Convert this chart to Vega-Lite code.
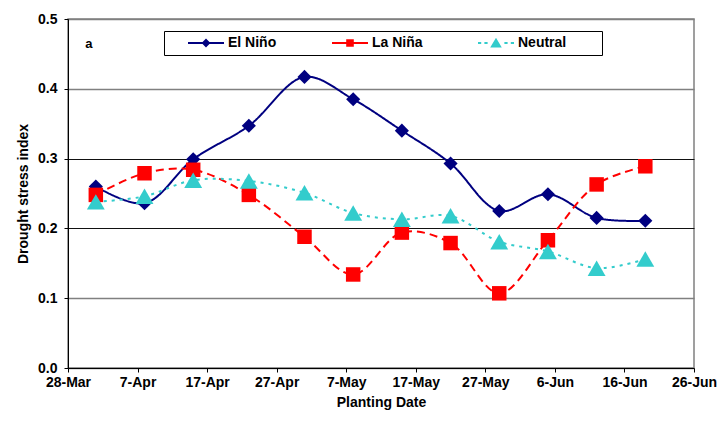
{
  "$schema": "https://vega.github.io/schema/vega-lite/v6.json",
  "width": 626,
  "height": 349,
  "autosize": {"type": "none"},
  "padding": {"left": 68, "top": 19, "right": 31, "bottom": 53},
  "background": "white",
  "data": {
    "values": [
      {"date": "2001/04/01", "series": "El Niño", "value": 0.260},
      {"date": "2001/04/08", "series": "El Niño", "value": 0.236},
      {"date": "2001/04/15", "series": "El Niño", "value": 0.299},
      {"date": "2001/04/23", "series": "El Niño", "value": 0.347},
      {"date": "2001/05/01", "series": "El Niño", "value": 0.417},
      {"date": "2001/05/08", "series": "El Niño", "value": 0.385},
      {"date": "2001/05/15", "series": "El Niño", "value": 0.340},
      {"date": "2001/05/22", "series": "El Niño", "value": 0.293},
      {"date": "2001/05/29", "series": "El Niño", "value": 0.225},
      {"date": "2001/06/05", "series": "El Niño", "value": 0.249},
      {"date": "2001/06/12", "series": "El Niño", "value": 0.215},
      {"date": "2001/06/19", "series": "El Niño", "value": 0.211},
      {"date": "2001/04/01", "series": "La Niña", "value": 0.248},
      {"date": "2001/04/08", "series": "La Niña", "value": 0.279},
      {"date": "2001/04/15", "series": "La Niña", "value": 0.284},
      {"date": "2001/04/23", "series": "La Niña", "value": 0.248},
      {"date": "2001/05/01", "series": "La Niña", "value": 0.188},
      {"date": "2001/05/08", "series": "La Niña", "value": 0.134},
      {"date": "2001/05/15", "series": "La Niña", "value": 0.194},
      {"date": "2001/05/22", "series": "La Niña", "value": 0.179},
      {"date": "2001/05/29", "series": "La Niña", "value": 0.107},
      {"date": "2001/06/05", "series": "La Niña", "value": 0.183},
      {"date": "2001/06/12", "series": "La Niña", "value": 0.263},
      {"date": "2001/06/19", "series": "La Niña", "value": 0.289},
      {"date": "2001/04/01", "series": "Neutral", "value": 0.238},
      {"date": "2001/04/08", "series": "Neutral", "value": 0.246},
      {"date": "2001/04/15", "series": "Neutral", "value": 0.269},
      {"date": "2001/04/23", "series": "Neutral", "value": 0.268},
      {"date": "2001/05/01", "series": "Neutral", "value": 0.251},
      {"date": "2001/05/08", "series": "Neutral", "value": 0.222},
      {"date": "2001/05/15", "series": "Neutral", "value": 0.213},
      {"date": "2001/05/22", "series": "Neutral", "value": 0.218},
      {"date": "2001/05/29", "series": "Neutral", "value": 0.181},
      {"date": "2001/06/05", "series": "Neutral", "value": 0.167},
      {"date": "2001/06/12", "series": "Neutral", "value": 0.143},
      {"date": "2001/06/19", "series": "Neutral", "value": 0.156}
    ]
  },
  "encoding": {
    "x": {
      "field": "date",
      "type": "temporal",
      "title": "Planting Date",
      "scale": {"domain": [{"year": 2001, "month": 3, "date": 28}, {"year": 2001, "month": 6, "date": 26}]},
      "axis": {
        "values": [
          {"year": 2001, "month": 3, "date": 28},
          {"year": 2001, "month": 4, "date": 7},
          {"year": 2001, "month": 4, "date": 17},
          {"year": 2001, "month": 4, "date": 27},
          {"year": 2001, "month": 5, "date": 7},
          {"year": 2001, "month": 5, "date": 17},
          {"year": 2001, "month": 5, "date": 27},
          {"year": 2001, "month": 6, "date": 6},
          {"year": 2001, "month": 6, "date": 16},
          {"year": 2001, "month": 6, "date": 26}
        ],
        "format": "%-d-%b",
        "grid": false,
        "labelPadding": 3,
        "titlePadding": 6,
        "labelOverlap": false,
        "labelFlush": false
      }
    },
    "y": {
      "field": "value",
      "type": "quantitative",
      "title": "Drought stress index",
      "scale": {"domain": [0, 0.5], "nice": false, "zero": true},
      "axis": {
        "values": [0, 0.1, 0.2, 0.3, 0.4, 0.5],
        "format": ".1f",
        "grid": true,
        "gridColor": {"condition": {"test": "abs(datum.value - 0.25) < 0.06", "value": "#111111"}, "value": "#808080"},
        "gridWidth": {"condition": {"test": "abs(datum.value - 0.25) < 0.06", "value": 1}, "value": 1.6},
        "labelPadding": 7,
        "titlePadding": 7
      }
    },
    "color": {
      "field": "series",
      "type": "nominal",
      "scale": {"domain": ["El Niño", "La Niña", "Neutral"], "range": ["#000080", "#FF0000", "#33CCCC"]},
      "legend": {
        "title": null,
        "orient": "none",
        "legendX": 96,
        "legendY": 12,
        "direction": "horizontal",
        "columns": 3,
        "gridAlign": "none",
        "columnPadding": 36,
        "padding": 5,
        "symbolSize": 64,
        "symbolOffset": 30,
        "labelOffset": 15,
        "strokeColor": "black",
        "fillColor": "white",
        "labelExpr": "datum.label == 'Neutral' ? 'Neutral\u2800\u2800\u2800' : datum.label",
        "symbolType": {"expr": "datum.value == 'El Niño' ? 'M-4.5,-0.25L4.5,-0.25L4.5,0.25L-4.5,0.25ZM0,-1.1L1.1,0L0,1.1L-1.1,0Z' : datum.value == 'La Niña' ? 'M-4.5,-0.25L4.5,-0.25L4.5,0.25L-4.5,0.25ZM-0.95,-0.95L0.95,-0.95L0.95,0.95L-0.95,0.95Z' : 'M-4.5,-0.25L-3.7,-0.25L-3.7,0.25L-4.5,0.25ZM-2.9,-0.25L-2.1,-0.25L-2.1,0.25L-2.9,0.25ZM2.1,-0.25L2.9,-0.25L2.9,0.25L2.1,0.25ZM3.7,-0.25L4.5,-0.25L4.5,0.25L3.7,0.25ZM0,-1.3L1.45,1.1L-1.45,1.1Z'"},
        "symbolFillColor": {"expr": "datum.value == 'El Niño' ? '#000080' : datum.value == 'La Niña' ? '#FF0000' : '#33CCCC'"},
        "symbolStrokeColor": "transparent",
        "symbolStrokeWidth": 0,
        "symbolOpacity": 1
      }
    }
  },
  "layer": [
    {
      "mark": {"type": "line", "interpolate": "catmull-rom", "strokeWidth": 2},
      "encoding": {
        "strokeDash": {
          "field": "series",
          "type": "nominal",
          "scale": {"domain": ["El Niño", "La Niña", "Neutral"], "range": [[1, 0], [8, 5], [3, 5]]},
          "legend": null
        }
      }
    },
    {
      "transform": [{"filter": "datum.series == 'El Niño'"}],
      "mark": {"type": "point", "filled": true, "opacity": 1, "shape": "diamond", "size": 200}
    },
    {
      "transform": [{"filter": "datum.series == 'La Niña'"}],
      "mark": {"type": "point", "filled": true, "opacity": 1, "shape": "square", "size": 210}
    },
    {
      "transform": [{"filter": "datum.series == 'Neutral'"}],
      "mark": {"type": "point", "filled": true, "opacity": 1, "shape": "triangle-up", "size": 320}
    },
    {
      "transform": [{"filter": "datum.series == 'El Niño' && datum.value == 0.26"}],
      "mark": {"type": "text", "text": "a", "fontSize": 13, "fontWeight": "bold", "color": "black"},
      "encoding": {
        "x": {"datum": {"year": 2001, "month": 3, "date": 31}},
        "y": {"datum": 0.464},
        "color": {"value": "black"}
      }
    }
  ],
  "config": {
    "font": "Liberation Sans",
    "view": {"stroke": "#808080", "strokeWidth": 1.5},
    "axis": {
      "labelFont": "Liberation Sans",
      "labelFontSize": 14,
      "labelFontWeight": "bold",
      "labelColor": "black",
      "titleFont": "Liberation Sans",
      "titleFontSize": 14,
      "titleFontWeight": "bold",
      "titleColor": "black",
      "domainColor": "black",
      "domainWidth": 1,
      "tickColor": "black",
      "tickSize": 4
    },
    "legend": {
      "labelFont": "Liberation Sans",
      "labelFontSize": 14,
      "labelFontWeight": "bold",
      "labelColor": "black"
    }
  }
}
